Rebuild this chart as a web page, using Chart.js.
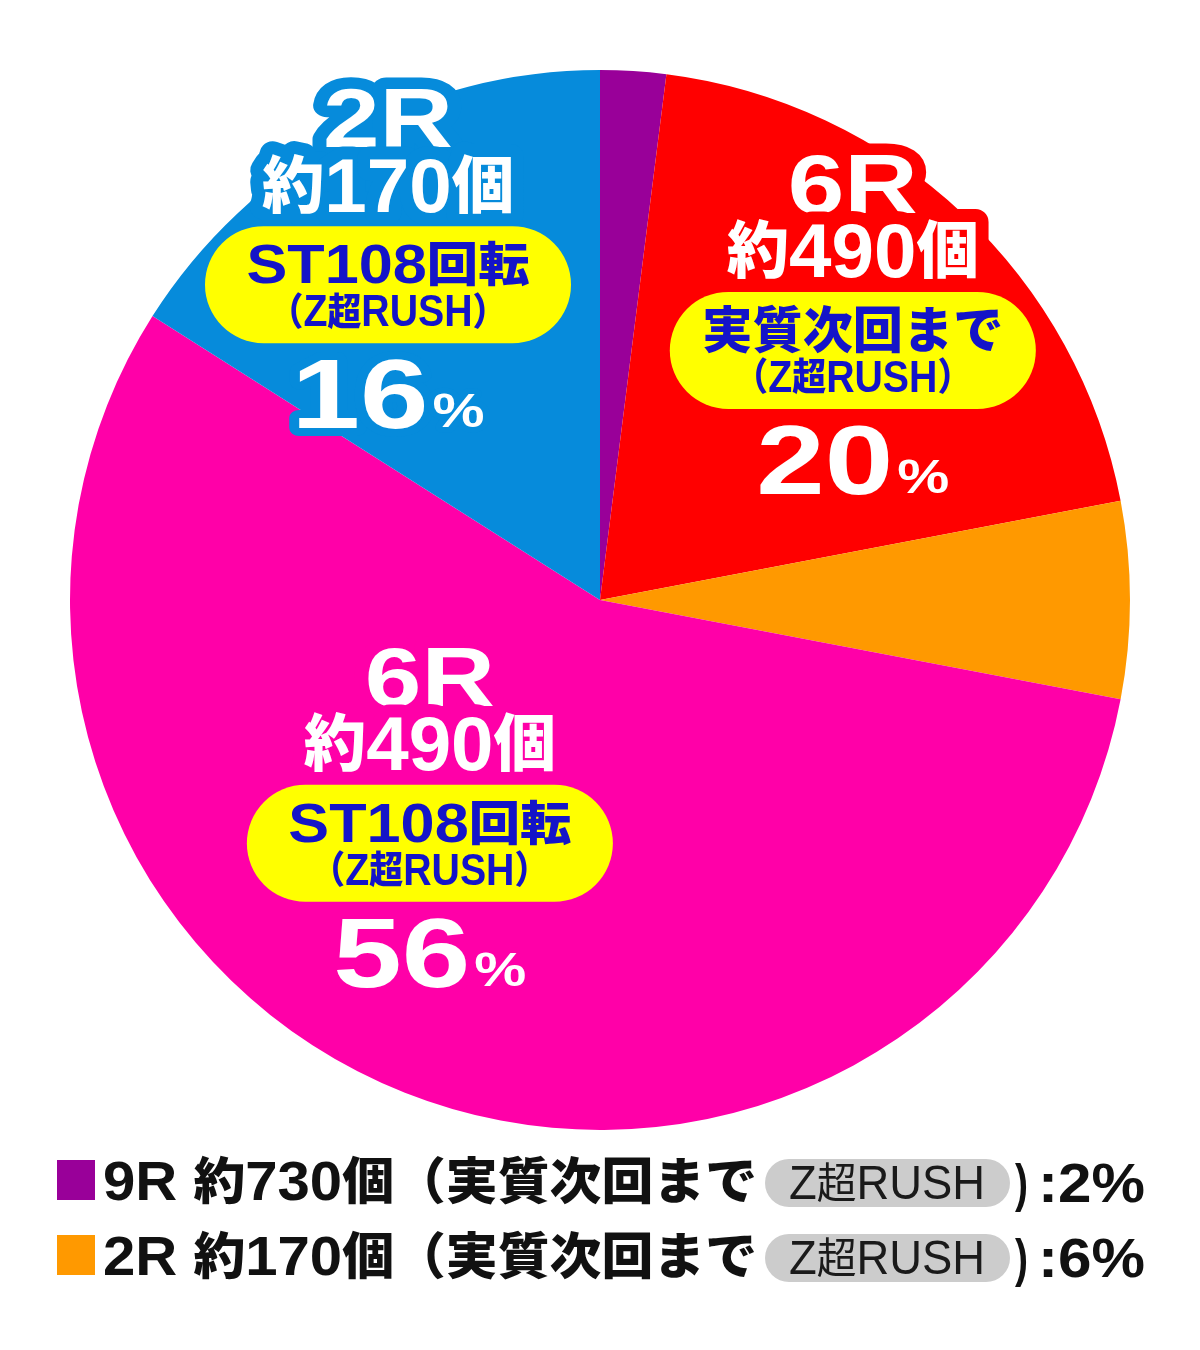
<!DOCTYPE html>
<html><head><meta charset="utf-8">
<script src="https://cdn.jsdelivr.net/npm/chart.js@4.4.1/dist/chart.umd.min.js"></script>
<style>html,body{margin:0;padding:0;background:#fff;}#wrap{width:1200px;height:1350px;}</style>
</head><body><div id="wrap"><canvas id="c" width="1200" height="1350"></canvas></div>
<script>
// ---- data ----
const categories = ['9R 約730個（実質次回まで Z超RUSH）','6R 約490個（実質次回まで Z超RUSH）','2R 約170個（実質次回まで Z超RUSH）','6R 約490個（ST108回転 Z超RUSH）','2R 約170個（ST108回転 Z超RUSH）'];
const values = [2, 20, 6, 56, 16];
const rounds = ['9R','6R','2R','6R','2R'];
const counts = ['約730個','約490個','約170個','約490個','約170個'];
const modes = ['実質次回まで','実質次回まで','実質次回まで','ST108回転','ST108回転'];
const rushText = 'Z超RUSH';
const colors = ['#990099','#FF0000','#FF9900','#FF00A8','#068BDB'];
const inChart = [1, 3, 4];
const inLegend = [0, 2];

// ---- layout (positions relative to pie centre / radius) ----
const labelPos = {1:{fx:0.477,fy:-0.787}, 3:{fx:-0.321,fy:0.143}, 4:{fx:-0.4,fy:-0.911}};

const LAT = "'Liberation Sans', Arial, sans-serif";
const CJK = "'Noto Sans CJK JP', sans-serif";
function isCJK(ch){ return /[\u3000-\u9fff\uff00-\uffef]/.test(ch); }
function runs(text){
  const out=[]; for(const ch of text){ const c=isCJK(ch); if(out.length&&out[out.length-1].c===c) out[out.length-1].t+=ch; else out.push({t:ch,c}); } return out;
}
// draw a line centred at cx with cap-centre at cy
function drawLine(ctx, text, cx, cy, o){
  const rs = runs(text);
  const fLat = `${o.wLat||'bold'} ${o.lat}px ${LAT}`;
  const fCjk = `${o.wCjk||'900'} ${o.cjk}px ${CJK}`;
  let w=0; rs.forEach(r=>{ ctx.font=r.c?fCjk:fLat; r.w=ctx.measureText(r.t).width; w+=r.w; });
  const sx = o.width ? o.width/w : 1;
  ctx.save();
  ctx.translate(o.align==='left'?cx:cx - w*sx/2, 0);
  ctx.scale(sx,1);
  ctx.textBaseline='alphabetic'; ctx.textAlign='left';
  ctx.lineJoin='round';
  const passes = o.stroke ? ['s','f'] : ['f'];
  for(const p of passes){
    let x=0;
    rs.forEach(r=>{
      ctx.font=r.c?fCjk:fLat;
      const by = r.c ? cy + o.cjk*0.38 : cy + o.lat*0.36;
      if(p==='s'){ ctx.strokeStyle=o.stroke; ctx.lineWidth=o.sw/sx; ctx.strokeText(r.t,x,by); }
      else { ctx.fillStyle=o.fill; ctx.fillText(r.t,x,by); }
      x+=r.w;
    });
  }
  ctx.restore();
  return w*sx;
}
function pill(ctx,x,y,w,h,color){
  const r=h/2; ctx.beginPath();
  ctx.moveTo(x+r,y); ctx.lineTo(x+w-r,y); ctx.arc(x+w-r,y+r,r,-Math.PI/2,Math.PI/2);
  ctx.lineTo(x+r,y+h); ctx.arc(x+r,y+r,r,Math.PI/2,Math.PI*1.5); ctx.closePath();
  ctx.fillStyle=color; ctx.fill();
}
function drawPct(ctx, val, cx, cy, col){
  const numW = 137, pctW = 52, gap = 4;
  const total = numW+gap+pctW, left = cx - total/2;
  drawLine(ctx, String(val), left, cy, {lat:98, width:numW, fill:'#fff', stroke:col, sw:20, align:'left'});
  drawLine(ctx, '%', left+numW+gap, cy+17, {lat:48, width:pctW, fill:'#fff', stroke:col, sw:14, align:'left'});
}

const labelPlugin = {
  id:'labels',
  afterDatasetsDraw(chart){
    const ctx = chart.ctx; const meta = chart.getDatasetMeta(0);
    inChart.forEach(i=>{
      const arc = meta.data[i]; const R = arc.outerRadius;
      const cx = arc.x + labelPos[i].fx*R, cy = arc.y + labelPos[i].fy*R;
      const col = colors[i];
      drawLine(ctx, rounds[i], cx, cy, {lat:84, width:130, fill:'#fff', stroke:col, sw:28});
      drawLine(ctx, counts[i], cx, cy+67, {lat:76, cjk:62, width:252, fill:'#fff', stroke:col, sw:26});
      pill(ctx, cx-183, cy+109, 366, 117, '#FFFF00');
      const isST = modes[i].startsWith('ST');
      drawLine(ctx, modes[i], cx, cy+146, {lat:56, cjk:isST?47:50, width:isST?283:301, fill:'#1414C8'});
      drawLine(ctx, '（'+rushText+'）', cx, cy+193, {lat:44, cjk:38, width:237, fill:'#1414C8'});
      drawPct(ctx, values[i], cx, cy+276, col);
    });
    // legend
    inLegend.forEach((i,k)=>{
      const y = 1180 + k*75;
      ctx.fillStyle=colors[i]; ctx.fillRect(57, y-20, 38, 40);
      drawLine(ctx, rounds[i]+' '+counts[i]+'（'+modes[i], 103, y, {lat:56, cjk:50, width:654, fill:'#111', align:'left'});
      pill(ctx, 765, y-21, 245, 48, '#CCCCCC');
      drawLine(ctx, rushText, 887, y+2, {lat:48, cjk:42, wLat:'normal', wCjk:'normal', width:196, fill:'#1a1a1a'});
      drawLine(ctx, ')', 1015, y+2, {lat:52, width:13, fill:'#111', align:'left'});
      drawLine(ctx, ':'+values[i]+'%', 1038, y+2, {lat:56, width:107, fill:'#111', align:'left'});
    });
  }
};

new Chart(document.getElementById('c'), {
  type:'pie',
  data:{ labels:categories, datasets:[{ data:values, backgroundColor:colors, borderWidth:0 }] },
  options:{
    responsive:false, animation:false,
    layout:{ padding:{ left:70, right:70, top:70, bottom:220 } },
    plugins:{ legend:{display:false}, tooltip:{enabled:false} }
  },
  plugins:[labelPlugin]
});
</script></body></html>
